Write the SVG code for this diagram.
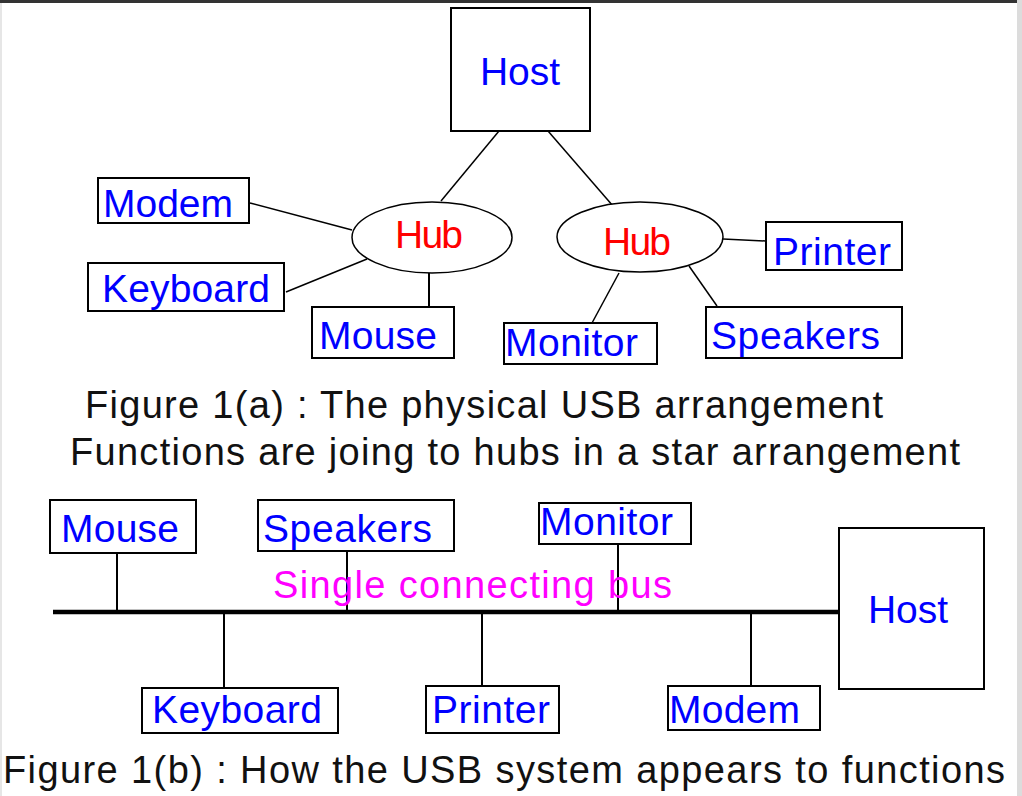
<svg xmlns="http://www.w3.org/2000/svg" width="1022" height="796" viewBox="0 0 1022 796">
<style>
.box{fill:#fff;stroke:#000;stroke-width:2}
.hub{fill:#fff;stroke:#000;stroke-width:1.5}
.ln{stroke:#000;stroke-width:1.5;fill:none}
.drop{stroke:#000;stroke-width:2;fill:none}
.bus{stroke:#000;stroke-width:4.5;fill:none}
.t{font-family:"Liberation Sans",Arial,sans-serif;font-size:39px;fill:#0000ff}
.h{font-family:"Liberation Sans",Arial,sans-serif;font-size:39px;fill:#ff0000}
.cap{font-family:"Liberation Sans",Arial,sans-serif;font-size:38px;fill:#111}
.bl{font-family:"Liberation Sans",Arial,sans-serif;font-size:38px;fill:#ff00ff}
</style>
<rect x="0" y="0" width="1022" height="796" fill="#fff"/>
<rect x="0" y="0" width="2" height="796" fill="#e6e6e6"/>
<rect x="1017" y="0" width="5" height="796" fill="#dcdcdc"/>
<rect x="0" y="0" width="1017" height="3" fill="#333"/>
<g id="connectors">
<line class="ln" x1="499" y1="131" x2="441" y2="201"/>
<line class="ln" x1="548" y1="131" x2="613" y2="206"/>
<line class="ln" x1="250" y1="203" x2="352" y2="230"/>
<line class="ln" x1="286" y1="292" x2="367" y2="259"/>
<line class="drop" x1="429" y1="273" x2="429" y2="307"/>
<line class="ln" x1="723" y1="239" x2="766" y2="241"/>
<line class="ln" x1="619" y1="273" x2="592" y2="323"/>
<line class="ln" x1="689" y1="266" x2="717" y2="306"/>
<line class="bus" x1="53" y1="612" x2="839" y2="612"/>
<line class="drop" x1="117" y1="553" x2="117" y2="612"/>
<line class="drop" x1="347" y1="551" x2="347" y2="612"/>
<line class="drop" x1="618" y1="544" x2="618" y2="612"/>
<line class="drop" x1="224" y1="612" x2="224" y2="688"/>
<line class="drop" x1="482" y1="612" x2="482" y2="686"/>
<line class="drop" x1="751" y1="612" x2="751" y2="686"/>
</g>
<g id="host-a"><rect class="box" x="451" y="8" width="139" height="123"/><text class="t" x="480" y="85" textLength="80">Host</text></g>
<g id="hub-left"><ellipse class="hub" cx="432" cy="237.5" rx="80" ry="35.5"/><text class="h" x="395" y="248" textLength="68">Hub</text></g>
<g id="hub-right"><ellipse class="hub" cx="640" cy="237" rx="83" ry="35"/><text class="h" x="603" y="255" textLength="68">Hub</text></g>
<g id="modem-a"><rect class="box" x="98" y="178" width="151" height="45"/><text class="t" x="103" y="217" textLength="130">Modem</text></g>
<g id="keyboard-a"><rect class="box" x="88" y="263" width="196" height="48"/><text class="t" x="102" y="302" textLength="168">Keyboard</text></g>
<g id="mouse-a"><rect class="box" x="312" y="307" width="142" height="51"/><text class="t" x="319" y="349" textLength="118">Mouse</text></g>
<g id="printer-a"><rect class="box" x="766" y="222" width="136" height="48"/><text class="t" x="773" y="265" textLength="118">Printer</text></g>
<g id="monitor-a"><rect class="box" x="504" y="323" width="153" height="41"/><text class="t" x="505" y="356" textLength="133">Monitor</text></g>
<g id="speakers-a"><rect class="box" x="706" y="307" width="196" height="51"/><text class="t" x="711" y="349" textLength="169">Speakers</text></g>
<g id="caption-a">
<text class="cap" x="85" y="418" textLength="798">Figure 1(a) : The physical USB arrangement</text>
<text class="cap" x="70" y="465" textLength="890">Functions are joing to hubs in a star arrangement</text>
</g>
<g id="mouse-b"><rect class="box" x="50" y="500" width="146" height="53"/><text class="t" x="61" y="542" textLength="118">Mouse</text></g>
<g id="speakers-b"><rect class="box" x="258" y="500" width="196" height="51"/><text class="t" x="263" y="542" textLength="169">Speakers</text></g>
<g id="monitor-b"><rect class="box" x="539" y="503" width="152" height="41"/><text class="t" x="540" y="535" textLength="133">Monitor</text></g>
<g id="host-b"><rect class="box" x="839" y="528" width="145" height="161"/><text class="t" x="868" y="623" textLength="80">Host</text></g>
<g id="bus-label"><text class="bl" x="273" y="598" textLength="399">Single connecting bus</text></g>
<g id="keyboard-b"><rect class="box" x="142" y="688" width="196" height="45"/><text class="t" x="152" y="723" textLength="170">Keyboard</text></g>
<g id="printer-b"><rect class="box" x="426" y="686" width="133" height="47"/><text class="t" x="432" y="723" textLength="118">Printer</text></g>
<g id="modem-b"><rect class="box" x="668" y="686" width="152" height="44"/><text class="t" x="669" y="723" textLength="131">Modem</text></g>
<g id="caption-b"><text class="cap" x="3" y="783" textLength="1002">Figure 1(b) : How the USB system appears to functions</text></g>
</svg>
